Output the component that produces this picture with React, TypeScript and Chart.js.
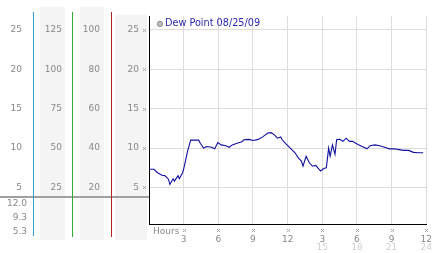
import React, { useEffect, useRef } from 'react';
import { Chart, registerables } from 'chart.js';

Chart.register(...registerables);

// Time of reading (hours since midnight) and dew point (°C)
const hours = [0.0, 0.43, 0.71, 1.12, 1.37, 1.68, 1.81, 2.09, 2.2, 2.51, 2.62, 2.92, 3.06, 3.34, 3.61, 4.03, 4.3, 4.44, 4.72, 5.0, 5.42, 5.69, 5.96, 6.25, 6.66, 6.94, 7.21, 7.62, 8.04, 8.21, 8.62, 9.04, 9.45, 9.87, 10.28, 10.56, 10.84, 11.11, 11.4, 11.53, 11.81, 12.08, 12.36, 12.64, 12.92, 13.19, 13.33, 13.6, 13.89, 14.16, 14.44, 14.72, 14.85, 15.13, 15.35, 15.55, 15.68, 15.88, 16.1, 16.24, 16.51, 16.79, 17.07, 17.34, 17.62, 17.9, 18.17, 18.59, 18.87, 19.14, 19.56, 19.97, 20.39, 20.81, 21.22, 21.64, 22.05, 22.47, 22.89, 23.31, 23.73];
const dewPoint = [7.3, 7.3, 6.9, 6.55, 6.5, 6.05, 5.4, 6.1, 5.8, 6.5, 6.1, 6.9, 7.7, 9.6, 11.0, 11.0, 11.0, 10.6, 10.0, 10.2, 10.1, 9.9, 10.7, 10.4, 10.3, 10.1, 10.4, 10.6, 10.8, 11.05, 11.1, 10.95, 11.1, 11.45, 11.9, 11.95, 11.7, 11.25, 11.4, 11.05, 10.6, 10.2, 9.8, 9.4, 8.75, 8.35, 7.7, 8.95, 8.1, 7.7, 7.8, 7.3, 7.1, 7.4, 7.5, 10.0, 8.95, 10.4, 9.2, 11.05, 11.1, 10.85, 11.25, 10.85, 10.85, 10.6, 10.4, 10.1, 9.9, 10.3, 10.4, 10.3, 10.1, 9.9, 9.9, 9.8, 9.7, 9.7, 9.45, 9.4, 9.4];

const legendLabel = 'Dew Point 08/25/09';
const celsiusTicks = [5, 10, 15, 20, 25];
const col2Ticks = [25, 50, 75, 100, 125];
const col3Ticks = [20, 40, 60, 80, 100];
const xTickValues = [0, 3, 6, 9, 12, 15, 18, 21, 24];
const xTickLabels = ['', '3', '6', '9', '12', '3', '6', '9', '12'];
const x2TickValues = [15, 18, 21, 24];
const x2TickLabels = ['15', '18', '21', '24'];
const lowerLabels = ['12.0', '9.3', '5.3'];
const xAxisTitle = 'Hours';

const FONT = 'DejaVu Sans';
const GRAY = '#888888';

function drawMark(ctx: CanvasRenderingContext2D, cx: number, cy: number) {
  const x = Math.round(cx) - 1;
  const y = Math.round(cy) - 1;
  ctx.fillStyle = '#a8a8a8';
  ctx.fillRect(x, y, 1, 1);
  ctx.fillRect(x + 2, y, 1, 1);
  ctx.fillRect(x + 1, y + 1, 1, 1);
  ctx.fillRect(x, y + 2, 1, 1);
  ctx.fillRect(x + 2, y + 2, 1, 1);
}

const decorPlugin = {
  id: 'decor',
  beforeDraw(chart: any) {
    const ctx = chart.ctx as CanvasRenderingContext2D;
    ctx.save();
    ctx.fillStyle = '#f4f4f4';
    ctx.fillRect(40, 7, 25, 233);
    ctx.fillRect(80, 7, 24, 233);
    ctx.fillRect(115, 15, 32, 225);
    ctx.restore();
  },
  afterDraw(chart: any) {
    const ctx = chart.ctx as CanvasRenderingContext2D;
    const ys = chart.scales.y;
    const xs = chart.scales.x;
    const area = chart.chartArea;
    ctx.save();
    // separator of the lower panel
    ctx.fillStyle = '#a0a0a0';
    ctx.fillRect(0, 196, 149, 2);
    // coloured axis lines
    ctx.fillStyle = '#2ea2cc';
    ctx.fillRect(33, 12, 1, 224);
    ctx.fillStyle = '#33aa33';
    ctx.fillRect(72, 12, 1, 225);
    ctx.fillStyle = '#b02424';
    ctx.fillRect(111, 12, 1, 225);
    // lower panel labels
    ctx.font = `9px "${FONT}"`;
    ctx.fillStyle = GRAY;
    ctx.textAlign = 'right';
    ctx.textBaseline = 'middle';
    const lowerY = [204, 218, 232];
    lowerLabels.forEach((t, i) => ctx.fillText(t, 27, lowerY[i]));
    // axis title
    ctx.textAlign = 'left';
    ctx.fillText(xAxisTitle, 153, 232);
    // little tick marks
    celsiusTicks.forEach((v) => drawMark(ctx, 144, ys.getPixelForValue(v)));
    xTickValues.slice(1).forEach((v) => drawMark(ctx, xs.getPixelForValue(v), 230));
    // legend
    const ds = chart.data.datasets[0];
    const lx = area.left + 11;
    const ly = area.top + 7.5;
    ctx.beginPath();
    ctx.arc(lx, ly, 2.6, 0, Math.PI * 2);
    ctx.fillStyle = '#bdbdbd';
    ctx.fill();
    ctx.lineWidth = 1;
    ctx.strokeStyle = '#8a8a8a';
    ctx.stroke();
    ctx.font = `9.7px "${FONT}"`;
    ctx.fillStyle = '#2a2aa8';
    ctx.textAlign = 'left';
    ctx.textBaseline = 'middle';
    ctx.fillText(ds.label, lx + 5, ly);
    ctx.restore();
  },
};

export default function App() {
  const ref = useRef<HTMLCanvasElement>(null);

  useEffect(() => {
    if (!ref.current) return;
    const chart = new Chart(ref.current, {
      type: 'line',
      data: {
        datasets: [
          {
            label: legendLabel,
            data: hours.map((h, i) => ({ x: h, y: dewPoint[i] })),
            borderColor: '#1010a0',
            backgroundColor: '#b8b8b8',
            borderWidth: 1.1,
            pointRadius: 0,
            tension: 0,
            fill: false,
          },
        ],
      },
      options: {
        animation: false,
        responsive: false,
        maintainAspectRatio: false,
        layout: { padding: { left: 0, top: 13, right: 3, bottom: 0 } },
        plugins: {
          tooltip: { enabled: false },
          legend: { display: false },
        },
        scales: {
          x: {
            type: 'linear',
            position: 'bottom',
            weight: 0,
            min: 0,
            max: 24,
            afterBuildTicks: (s: any) => { s.ticks = xTickValues.map((v) => ({ value: v })); },
            afterFit: (s: any) => { s.height = 18; },
            ticks: {
              autoSkip: false,
              maxRotation: 0,
              padding: 10,
              color: GRAY,
              font: { family: FONT, size: 9 },
              callback: (_v: any, i: number) => xTickLabels[i],
            },
            grid: { color: '#dcdcdc', drawTicks: false },
            border: { color: '#000000', width: 1 },
          },
          x2: {
            type: 'linear',
            position: 'bottom',
            weight: 1,
            min: 0,
            max: 24,
            afterBuildTicks: (s: any) => { s.ticks = x2TickValues.map((v) => ({ value: v })); },
            afterFit: (s: any) => { s.height = 10.5; },
            ticks: {
              autoSkip: false,
              maxRotation: 0,
              padding: 0,
              color: '#d0d0d0',
              font: { family: FONT, size: 9 },
              callback: (_v: any, i: number) => x2TickLabels[i],
            },
            grid: { display: false, drawTicks: false },
            border: { display: false },
          },
          y: {
            type: 'linear',
            position: 'left',
            weight: 0,
            min: 0.3,
            max: 26.7,
            afterBuildTicks: (s: any) => { s.ticks = celsiusTicks.map((v) => ({ value: v })); },
            afterFit: (s: any) => { s.width = 38; },
            ticks: { padding: 10, color: GRAY, font: { family: FONT, size: 9 } },
            grid: { color: '#dcdcdc', drawTicks: false },
            border: { color: '#000000', width: 1 },
          },
          yC3: {
            type: 'linear',
            position: 'left',
            weight: 1,
            min: 0.3 * 4,
            max: 26.7 * 4,
            afterBuildTicks: (s: any) => { s.ticks = col3Ticks.map((v) => ({ value: v })); },
            afterFit: (s: any) => { s.width = 39; },
            ticks: { padding: 11, color: GRAY, font: { family: FONT, size: 9 } },
            grid: { display: false, drawTicks: false },
            border: { display: false },
          },
          yC2: {
            type: 'linear',
            position: 'left',
            weight: 2,
            min: 0.3 * 5,
            max: 26.7 * 5,
            afterBuildTicks: (s: any) => { s.ticks = col2Ticks.map((v) => ({ value: v })); },
            afterFit: (s: any) => { s.width = 39; },
            ticks: { padding: 10, color: GRAY, font: { family: FONT, size: 9 } },
            grid: { display: false, drawTicks: false },
            border: { display: false },
          },
          yC1: {
            type: 'linear',
            position: 'left',
            weight: 3,
            min: 0.3,
            max: 26.7,
            afterBuildTicks: (s: any) => { s.ticks = celsiusTicks.map((v) => ({ value: v })); },
            afterFit: (s: any) => { s.width = 33; },
            ticks: { padding: 11, color: GRAY, font: { family: FONT, size: 9 } },
            grid: { display: false, drawTicks: false },
            border: { display: false },
          },
        },
      } as any,
      plugins: [decorPlugin],
    });
    return () => chart.destroy();
  }, []);

  return (
    <div style={{ position: 'absolute', left: 0, top: 0, width: 442, height: 253, background: '#ffffff' }}>
      <canvas ref={ref} width={442} height={253} style={{ display: 'block', width: 442, height: 253 }} />
    </div>
  );
}
